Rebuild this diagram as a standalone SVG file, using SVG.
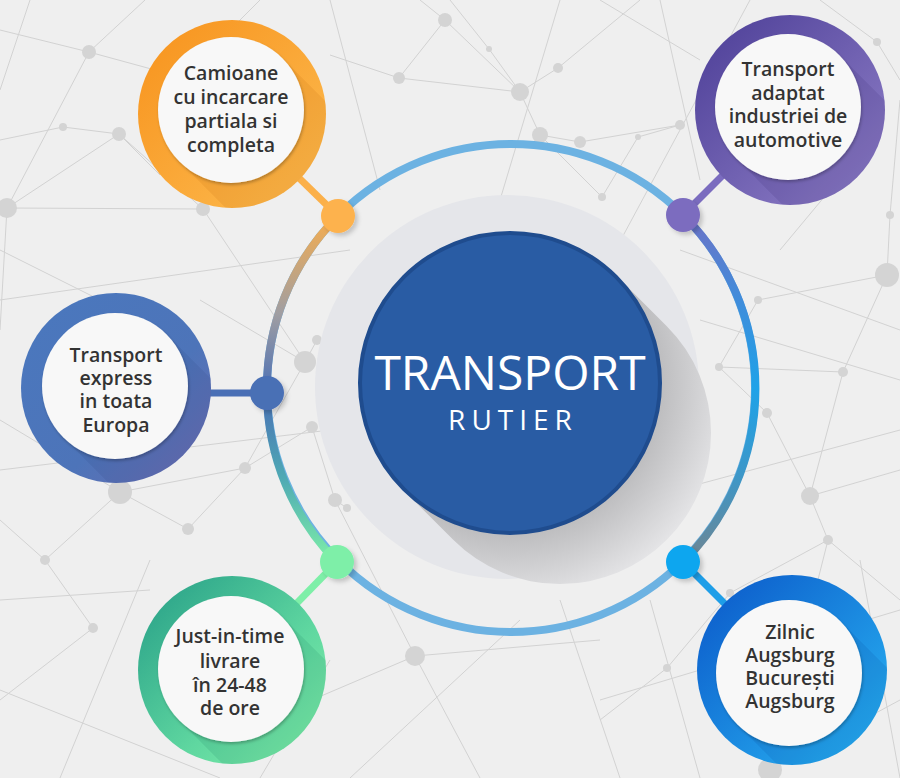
<svg xmlns="http://www.w3.org/2000/svg" width="900" height="778" viewBox="0 0 900 778">
<defs>
<style>
.net line{stroke:#d2d2d2;stroke-width:1}
.net circle{fill:#d4d4d4}
.lbl{font-family:"Open Sans","DejaVu Sans",sans-serif;font-size:19.5px;font-weight:600;fill:#333333;text-anchor:middle}
.ttl{font-family:"Open Sans","DejaVu Sans",sans-serif;fill:#ffffff;text-anchor:middle}
.white{fill:#f8f8f8}
.stub{stroke-width:7;stroke-linecap:butt;fill:none}
.seg{fill:none;stroke-width:8}
</style>
<filter id="ds" x="-20%" y="-20%" width="140%" height="140%">
<feDropShadow dx="1" dy="2" stdDeviation="1.5" flood-color="#000" flood-opacity="0.25"/>
</filter>
<filter id="dotsh" x="-50%" y="-50%" width="200%" height="200%">
<feDropShadow dx="3" dy="3" stdDeviation="2" flood-color="#000" flood-opacity="0.18"/>
</filter>
<linearGradient id="gOrange" x1="0" y1="0" x2="1" y2="1"><stop offset="0" stop-color="#f7921c"/><stop offset="1" stop-color="#fdbd52"/></linearGradient>
<linearGradient id="gPurple" x1="0" y1="0" x2="1" y2="1"><stop offset="0" stop-color="#4b3d96"/><stop offset="1" stop-color="#9282ca"/></linearGradient>
<linearGradient id="gBlue" x1="0" y1="0" x2="1" y2="1"><stop offset="0" stop-color="#4a78be"/><stop offset="0.6" stop-color="#4d74b9"/><stop offset="1" stop-color="#6e6cb0"/></linearGradient>
<linearGradient id="gGreen" x1="0" y1="0" x2="1" y2="1"><stop offset="0" stop-color="#249c86"/><stop offset="0.6" stop-color="#5fd7a0"/><stop offset="1" stop-color="#86f2aa"/></linearGradient>
<linearGradient id="gCyan" x1="0" y1="0" x2="1" y2="1"><stop offset="0" stop-color="#0a56c8"/><stop offset="1" stop-color="#2ab8f5"/></linearGradient>
<linearGradient id="gRight" gradientUnits="userSpaceOnUse" x1="720" y1="215" x2="720" y2="562"><stop offset="0" stop-color="#6d72c6"/><stop offset="0.25" stop-color="#3f8ddb"/><stop offset="0.5" stop-color="#1ea2e8"/><stop offset="0.75" stop-color="#3d97c8"/><stop offset="1" stop-color="#6e8592"/></linearGradient>
<linearGradient id="gUL" gradientUnits="userSpaceOnUse" x1="300" y1="393" x2="300" y2="216"><stop offset="0" stop-color="#4a6fb5"/><stop offset="0.45" stop-color="#a09ea2"/><stop offset="1" stop-color="#f6ad4e"/></linearGradient>
<linearGradient id="gLL" gradientUnits="userSpaceOnUse" x1="300" y1="562" x2="300" y2="393"><stop offset="0" stop-color="#7eefa8"/><stop offset="0.5" stop-color="#4fa9b4"/><stop offset="1" stop-color="#4a6fb5"/></linearGradient>
<radialGradient id="gShadow" gradientUnits="userSpaceOnUse" cx="510" cy="383" r="225"><stop offset="0.66" stop-color="#bcbcbe"/><stop offset="1" stop-color="#e6e6e8"/></radialGradient>
<clipPath id="cO"><circle cx="232" cy="114" r="94"/></clipPath>
<clipPath id="cP"><circle cx="790" cy="110" r="95"/></clipPath>
<clipPath id="cB"><circle cx="116" cy="388" r="95"/></clipPath>
<clipPath id="cG"><circle cx="232" cy="670" r="94"/></clipPath>
<clipPath id="cC"><circle cx="792" cy="670" r="95"/></clipPath>
</defs>

<rect width="900" height="778" fill="#efefef"/>

<g id="background-network" class="net">
<line x1="7" y1="208" x2="89" y2="52"/><line x1="7" y1="208" x2="119" y2="134"/><line x1="7" y1="208" x2="0" y2="330"/>
<line x1="7" y1="208" x2="203" y2="209"/><line x1="89" y1="52" x2="145" y2="0"/><line x1="89" y1="52" x2="0" y2="30"/>
<line x1="89" y1="52" x2="210" y2="85"/><line x1="63" y1="127" x2="119" y2="134"/><line x1="63" y1="127" x2="0" y2="140"/>
<line x1="119" y1="134" x2="203" y2="209"/><line x1="119" y1="134" x2="160" y2="175"/><line x1="203" y1="209" x2="305" y2="362"/>
<line x1="399" y1="78" x2="445" y2="20"/><line x1="399" y1="78" x2="330" y2="55"/><line x1="399" y1="78" x2="520" y2="92"/>
<line x1="445" y1="20" x2="520" y2="92"/><line x1="445" y1="20" x2="420" y2="0"/><line x1="520" y1="92" x2="558" y2="68"/>
<line x1="520" y1="92" x2="540" y2="135"/><line x1="520" y1="92" x2="489" y2="49"/><line x1="489" y1="49" x2="450" y2="0"/>
<line x1="540" y1="135" x2="580" y2="142"/><line x1="540" y1="135" x2="602" y2="197"/><line x1="580" y1="142" x2="680" y2="125"/>
<line x1="558" y1="68" x2="640" y2="0"/><line x1="680" y1="125" x2="638" y2="137"/><line x1="638" y1="137" x2="602" y2="197"/>
<line x1="877" y1="42" x2="820" y2="0"/><line x1="877" y1="42" x2="900" y2="80"/><line x1="887" y1="275" x2="890" y2="215"/>
<line x1="887" y1="275" x2="758" y2="300"/><line x1="887" y1="275" x2="843" y2="372"/><line x1="890" y1="215" x2="900" y2="100"/>
<line x1="843" y1="372" x2="810" y2="496"/><line x1="843" y1="372" x2="719" y2="367"/><line x1="758" y1="300" x2="719" y2="367"/>
<line x1="719" y1="367" x2="767" y2="413"/><line x1="767" y1="413" x2="810" y2="496"/><line x1="810" y1="496" x2="900" y2="470"/>
<line x1="810" y1="496" x2="828" y2="540"/><line x1="828" y1="540" x2="900" y2="600"/><line x1="828" y1="540" x2="770" y2="770"/>
<line x1="730" y1="593" x2="828" y2="540"/><line x1="667" y1="668" x2="730" y2="593"/><line x1="667" y1="668" x2="600" y2="720"/>
<line x1="770" y1="770" x2="900" y2="700"/><line x1="415" y1="656" x2="335" y2="500"/><line x1="415" y1="656" x2="480" y2="778"/>
<line x1="415" y1="656" x2="300" y2="705"/><line x1="415" y1="656" x2="600" y2="640"/><line x1="305" y1="362" x2="317" y2="340"/>
<line x1="305" y1="362" x2="245" y2="468"/><line x1="305" y1="362" x2="200" y2="300"/><line x1="312" y1="427" x2="245" y2="468"/>
<line x1="312" y1="427" x2="335" y2="500"/><line x1="335" y1="500" x2="347" y2="508"/><line x1="245" y1="468" x2="120" y2="492"/>
<line x1="120" y1="492" x2="188" y2="529"/><line x1="120" y1="492" x2="0" y2="420"/><line x1="120" y1="492" x2="45" y2="560"/>
<line x1="188" y1="529" x2="245" y2="468"/><line x1="45" y1="560" x2="93" y2="628"/><line x1="93" y1="628" x2="0" y2="700"/>
<line x1="45" y1="560" x2="0" y2="520"/><line x1="0" y1="300" x2="350" y2="250"/><line x1="0" y1="470" x2="330" y2="430"/>
<line x1="560" y1="0" x2="470" y2="300"/><line x1="640" y1="500" x2="900" y2="430"/><line x1="600" y1="700" x2="900" y2="610"/>
<line x1="0" y1="690" x2="220" y2="778"/><line x1="350" y1="778" x2="520" y2="620"/><line x1="660" y1="0" x2="700" y2="180"/>
<line x1="750" y1="0" x2="610" y2="260"/><line x1="30" y1="0" x2="0" y2="90"/><line x1="260" y1="0" x2="230" y2="30"/>
<line x1="680" y1="250" x2="900" y2="330"/><line x1="700" y1="320" x2="900" y2="380"/><line x1="860" y1="560" x2="900" y2="778"/>
<line x1="560" y1="600" x2="620" y2="778"/><line x1="650" y1="600" x2="700" y2="778"/><line x1="150" y1="560" x2="60" y2="778"/>
<line x1="0" y1="250" x2="140" y2="320"/><line x1="330" y1="0" x2="380" y2="190"/><line x1="600" y1="0" x2="700" y2="60"/>
<line x1="0" y1="600" x2="150" y2="590"/><line x1="260" y1="778" x2="330" y2="660"/><line x1="880" y1="130" x2="780" y2="250"/>
<circle cx="7" cy="208" r="10"/><circle cx="89" cy="52" r="7"/><circle cx="63" cy="127" r="4"/><circle cx="119" cy="134" r="7"/>
<circle cx="203" cy="209" r="7"/><circle cx="399" cy="78" r="6"/><circle cx="445" cy="20" r="7"/><circle cx="520" cy="92" r="9"/>
<circle cx="558" cy="68" r="5"/><circle cx="489" cy="49" r="3"/><circle cx="540" cy="135" r="8"/><circle cx="580" cy="142" r="6"/>
<circle cx="680" cy="125" r="5"/><circle cx="638" cy="137" r="3"/><circle cx="602" cy="197" r="4"/><circle cx="877" cy="42" r="4"/>
<circle cx="887" cy="275" r="12"/><circle cx="890" cy="215" r="4"/><circle cx="305" cy="362" r="11"/><circle cx="317" cy="340" r="5"/>
<circle cx="312" cy="427" r="6"/><circle cx="245" cy="468" r="6"/><circle cx="335" cy="500" r="7"/><circle cx="347" cy="508" r="4"/>
<circle cx="120" cy="492" r="12"/><circle cx="188" cy="529" r="6"/><circle cx="45" cy="560" r="5"/><circle cx="93" cy="628" r="5"/>
<circle cx="415" cy="656" r="10"/><circle cx="810" cy="496" r="9"/><circle cx="843" cy="372" r="5"/><circle cx="758" cy="300" r="4"/>
<circle cx="719" cy="367" r="4"/><circle cx="767" cy="413" r="5"/><circle cx="828" cy="540" r="5"/><circle cx="667" cy="668" r="4"/>
<circle cx="770" cy="770" r="12"/><circle cx="730" cy="593" r="4"/>
</g>

<g id="center">
<circle cx="507" cy="387" r="192" fill="#e5e6ea"/>
<path d="M616.8 276.2 L666.8 326.2 A151 151 0 0 1 453.2 539.8 L403.2 489.8 A151 151 0 0 1 616.8 276.2 Z" fill="url(#gShadow)"/>
<circle cx="510" cy="383" r="150" fill="#295ca4" stroke="#1f4c8e" stroke-width="4"/>
<text class="ttl" x="510" y="390" font-size="48">TRANSPORT</text>
<text class="ttl" x="513" y="430" font-size="28" letter-spacing="6">RUTIER</text>
</g>

<g id="connectors">
<circle cx="511" cy="388" r="244" fill="none" stroke="#6cb2e2" stroke-width="8"/>
<path class="seg" d="M683 215 A244 244 0 0 1 683 562" stroke="url(#gRight)"/>
<path class="seg" d="M267 393 A244 244 0 0 1 338 216" stroke="url(#gUL)" stroke-width="7"/>
<path class="seg" d="M337 562 A244 244 0 0 1 267 393" stroke="url(#gLL)" stroke-width="7"/>
<line class="stub" x1="298" y1="177" x2="338" y2="216" stroke="#fbb04a"/>
<line class="stub" x1="724" y1="174" x2="683" y2="215" stroke="#7b6cbf"/>
<line class="stub" x1="208" y1="393" x2="267" y2="393" stroke="#4a6fb5"/>
<line class="stub" x1="296" y1="604" x2="337" y2="562" stroke="#7eefa8"/>
<line class="stub" x1="683" y1="562" x2="726" y2="605" stroke="#1e9ee8"/>
<circle cx="338" cy="216" r="17" fill="#fdb24e" filter="url(#dotsh)"/>
<circle cx="683" cy="215" r="17" fill="#7b6cbf" filter="url(#dotsh)"/>
<circle cx="267" cy="393" r="17" fill="#4a6fb5" filter="url(#dotsh)"/>
<circle cx="337" cy="562" r="17" fill="#7eefa8" filter="url(#dotsh)"/>
<circle cx="683" cy="562" r="17" fill="#11a6ef" filter="url(#dotsh)"/>
</g>

<g id="node-camioane">
<circle cx="232" cy="114" r="94" fill="url(#gOrange)"/>
<path clip-path="url(#cO)" d="M282.6 58.4 L342.6 118.4 A73 73 0 0 1 239.4 221.6 L179.4 161.6 A73 73 0 0 1 282.6 58.4 Z" fill="#b35a00" opacity="0.12"/>
<circle class="white" cx="231" cy="110" r="73" filter="url(#ds)"/>
<text class="lbl" x="231" y="80">Camioane</text>
<text class="lbl" x="231" y="104">cu incarcare</text>
<text class="lbl" x="231" y="128">partiala si</text>
<text class="lbl" x="231" y="152">completa</text>
</g>

<g id="node-automotive">
<circle cx="790" cy="110" r="95" fill="url(#gPurple)"/>
<path clip-path="url(#cP)" d="M839.6 55.4 L899.6 115.4 A73 73 0 0 1 796.4 218.6 L736.4 158.6 A73 73 0 0 1 839.6 55.4 Z" fill="#2a1a66" opacity="0.12"/>
<circle class="white" cx="788" cy="107" r="73" filter="url(#ds)"/>
<text class="lbl" x="788" y="76">Transport</text>
<text class="lbl" x="788" y="100">adaptat</text>
<text class="lbl" x="788" y="123">industriei de</text>
<text class="lbl" x="788" y="147">automotive</text>
</g>

<g id="node-express">
<circle cx="116" cy="388" r="95" fill="url(#gBlue)"/>
<path clip-path="url(#cB)" d="M166.6 334.4 L226.6 394.4 A73 73 0 0 1 123.4 497.6 L63.4 437.6 A73 73 0 0 1 166.6 334.4 Z" fill="#20306a" opacity="0.1"/>
<circle class="white" cx="115" cy="386" r="73" filter="url(#ds)"/>
<text class="lbl" x="116" y="362">Transport</text>
<text class="lbl" x="116" y="385">express</text>
<text class="lbl" x="116" y="408">in toata</text>
<text class="lbl" x="116" y="432">Europa</text>
</g>

<g id="node-justintime">
<circle cx="232" cy="670" r="94" fill="url(#gGreen)"/>
<path clip-path="url(#cG)" d="M282.6 617.4 L342.6 677.4 A73 73 0 0 1 239.4 780.6 L179.4 720.6 A73 73 0 0 1 282.6 617.4 Z" fill="#0a6a50" opacity="0.12"/>
<circle class="white" cx="231" cy="669" r="73" filter="url(#ds)"/>
<text class="lbl" x="230" y="643">Just-in-time</text>
<text class="lbl" x="230" y="668">livrare</text>
<text class="lbl" x="230" y="692">în 24-48</text>
<text class="lbl" x="230" y="715">de ore</text>
</g>

<g id="node-zilnic">
<circle cx="792" cy="670" r="95" fill="url(#gCyan)"/>
<path clip-path="url(#cC)" d="M840.6 621.4 L900.6 681.4 A73 73 0 0 1 797.4 784.6 L737.4 724.6 A73 73 0 0 1 840.6 621.4 Z" fill="#003a8a" opacity="0.12"/>
<circle class="white" cx="789" cy="673" r="73" filter="url(#ds)"/>
<text class="lbl" x="790" y="639">Zilnic</text>
<text class="lbl" x="790" y="662">Augsburg</text>
<text class="lbl" x="790" y="685">București</text>
<text class="lbl" x="790" y="708">Augsburg</text>
</g>
</svg>
